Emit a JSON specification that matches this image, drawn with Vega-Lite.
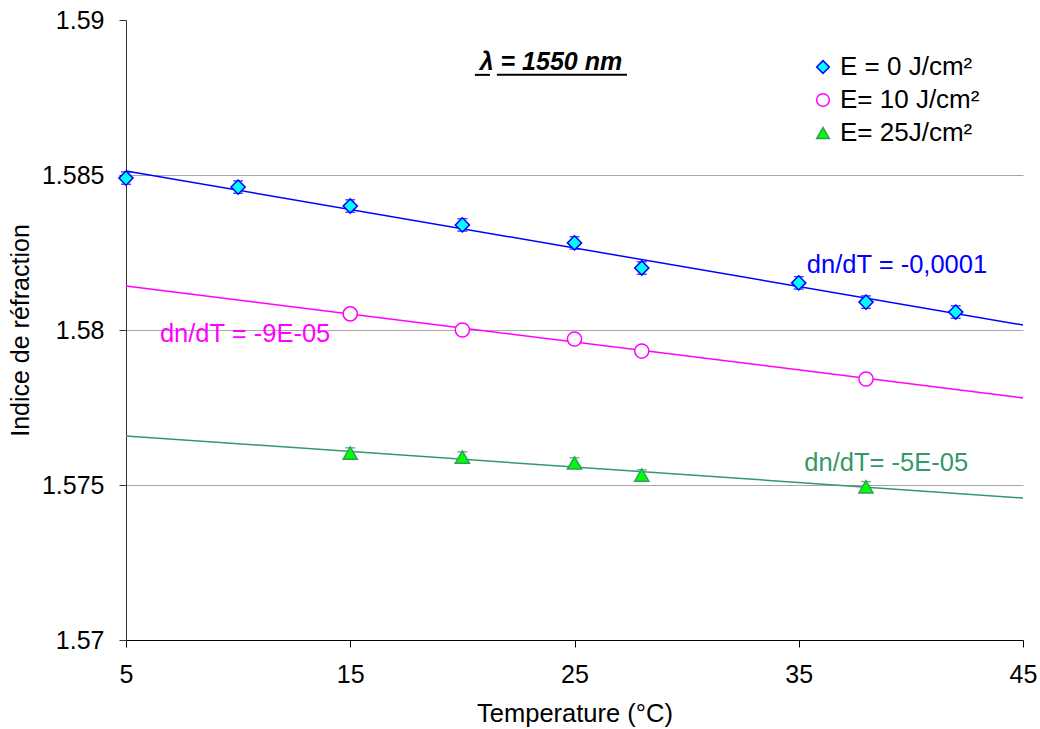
{
  "$schema": "https://vega.github.io/schema/vega-lite/v6.json",
  "width": 897,
  "height": 620,
  "autosize": "none",
  "padding": {"left": 126, "top": 20, "right": 17, "bottom": 89},
  "background": "white",
  "config": {
    "font": "Liberation Sans",
    "view": {"stroke": null},
    "axis": {"labelFont": "Liberation Sans", "titleFont": "Liberation Sans", "labelColor": "black", "titleColor": "black", "titleFontWeight": "normal"},
    "legend": {"orient": "none", "legendX": 684, "legendY": 34, "labelFontSize": 26, "labelFont": "Liberation Sans", "labelColor": "black", "symbolSize": 160, "symbolStrokeWidth": 1.5, "rowPadding": 7, "labelOffset": 4, "padding": 0}
  },
  "datasets": {
    "points": [
      {"T": 5, "n": 1.5849, "err": 0.0002, "s": "E = 0 J/cm²"},
      {"T": 10, "n": 1.58461, "err": 0.0002, "s": "E = 0 J/cm²"},
      {"T": 15, "n": 1.584, "err": 0.0002, "s": "E = 0 J/cm²"},
      {"T": 20, "n": 1.58339, "err": 0.0002, "s": "E = 0 J/cm²"},
      {"T": 25, "n": 1.58281, "err": 0.0002, "s": "E = 0 J/cm²"},
      {"T": 28, "n": 1.582, "err": 0.0002, "s": "E = 0 J/cm²"},
      {"T": 35, "n": 1.58152, "err": 0.0002, "s": "E = 0 J/cm²"},
      {"T": 38, "n": 1.5809, "err": 0.0002, "s": "E = 0 J/cm²"},
      {"T": 42, "n": 1.58058, "err": 0.0002, "s": "E = 0 J/cm²"},
      {"T": 15, "n": 1.58052, "err": 0.0001, "s": "E= 10 J/cm²"},
      {"T": 20, "n": 1.58, "err": 0.0001, "s": "E= 10 J/cm²"},
      {"T": 25, "n": 1.57971, "err": 0.0001, "s": "E= 10 J/cm²"},
      {"T": 28, "n": 1.57932, "err": 0.0001, "s": "E= 10 J/cm²"},
      {"T": 38, "n": 1.57842, "err": 0.0001, "s": "E= 10 J/cm²"},
      {"T": 15, "n": 1.57603, "err": 0.00017, "s": "E= 25J/cm²"},
      {"T": 20, "n": 1.5759, "err": 0.00017, "s": "E= 25J/cm²"},
      {"T": 25, "n": 1.57571, "err": 0.00017, "s": "E= 25J/cm²"},
      {"T": 28, "n": 1.57532, "err": 0.00017, "s": "E= 25J/cm²"},
      {"T": 38, "n": 1.57494, "err": 0.00017, "s": "E= 25J/cm²"}
    ],
    "fits": [
      {"T": 5, "n": 1.58513, "s": "E = 0 J/cm²"},
      {"T": 45, "n": 1.58016, "s": "E = 0 J/cm²"},
      {"T": 5, "n": 1.58142, "s": "E= 10 J/cm²"},
      {"T": 45, "n": 1.57781, "s": "E= 10 J/cm²"},
      {"T": 5, "n": 1.57658, "s": "E= 25J/cm²"},
      {"T": 45, "n": 1.57458, "s": "E= 25J/cm²"}
    ],
    "labels": [
      {"T": 39.38, "n": 1.5821, "txt": "dn/dT = -0,0001", "s": "E = 0 J/cm²"},
      {"T": 10.31, "n": 1.57987, "txt": "dn/dT = -9E-05", "s": "E= 10 J/cm²"},
      {"T": 38.9, "n": 1.57571, "txt": "dn/dT= -5E-05", "s": "E= 25J/cm²"}
    ],
    "underline": [
      {"a": 20.56, "b": 21.23, "n": 1.58823},
      {"a": 21.54, "b": 27.34, "n": 1.58823}
    ]
  },
  "layer": [
    {
      "data": {"name": "fits"},
      "transform": [{"filter": "datum.s === 'E = 0 J/cm²'"}],
      "mark": {"type": "line", "strokeWidth": 1.5, "color": "#0000FF"},
      "encoding": {
        "x": {"field": "T", "type": "quantitative", "scale": {"domain": [5, 45], "nice": false, "zero": false},
          "axis": {"values": [5, 15, 25, 35, 45], "title": "Temperature (°C)", "titleFontSize": 25.5, "labelFontSize": 25, "labelPadding": 15, "titlePadding": 14, "grid": false, "domainColor": "black", "tickColor": "black", "tickSize": 7, "labelFlush": false}},
        "y": {"field": "n", "type": "quantitative", "title": "Indice de réfraction", "scale": {"domain": [1.57, 1.59], "nice": false, "zero": false},
          "axis": {"values": [1.57, 1.575, 1.58, 1.585, 1.59], "format": "~g", "titleFontSize": 25, "labelFontSize": 25, "labelPadding": 15, "titlePadding": 8, "domainColor": "#333333", "tickColor": "#333333", "tickSize": 7, "labelFlush": false,
            "grid": true, "gridColor": "#a6a6a6", "gridOpacity": {"condition": {"test": "datum.value < 1.571 || datum.value > 1.589", "value": 0}, "value": 1}}}
      }
    },
    {
      "data": {"name": "fits"},
      "transform": [{"filter": "datum.s === 'E= 10 J/cm²'"}],
      "mark": {"type": "line", "strokeWidth": 1.5, "color": "#FF00FF"},
      "encoding": {
        "x": {"field": "T", "type": "quantitative"},
        "y": {"field": "n", "type": "quantitative", "title": "Indice de réfraction"}
      }
    },
    {
      "data": {"name": "fits"},
      "transform": [{"filter": "datum.s === 'E= 25J/cm²'"}],
      "mark": {"type": "line", "strokeWidth": 1.5, "color": "#339966"},
      "encoding": {
        "x": {"field": "T", "type": "quantitative"},
        "y": {"field": "n", "type": "quantitative", "title": "Indice de réfraction"}
      }
    },
    {
      "data": {"name": "points"},
      "transform": [{"filter": "datum.s === 'E = 0 J/cm²'"}],
      "mark": {"type": "errorbar", "ticks": {"size": 10}, "thickness": 1.5, "color": "#0000FF"},
      "encoding": {
        "x": {"field": "T", "type": "quantitative"},
        "y": {"field": "n", "type": "quantitative", "title": "Indice de réfraction"},
        "yError": {"field": "err"}
      }
    },
    {
      "data": {"name": "points"},
      "transform": [{"filter": "datum.s === 'E= 10 J/cm²'"}],
      "mark": {"type": "errorbar", "ticks": {"size": 10}, "thickness": 1.5, "color": "#FF00FF"},
      "encoding": {
        "x": {"field": "T", "type": "quantitative"},
        "y": {"field": "n", "type": "quantitative", "title": "Indice de réfraction"},
        "yError": {"field": "err"}
      }
    },
    {
      "data": {"name": "points"},
      "transform": [{"filter": "datum.s === 'E= 25J/cm²'"}],
      "mark": {"type": "errorbar", "ticks": {"size": 10}, "thickness": 1.5, "color": "#339966"},
      "encoding": {
        "x": {"field": "T", "type": "quantitative"},
        "y": {"field": "n", "type": "quantitative", "title": "Indice de réfraction"},
        "yError": {"field": "err"}
      }
    },
    {
      "data": {"name": "points"},
      "mark": {"type": "point", "filled": false, "opacity": 1, "strokeWidth": 1.5, "size": 200},
      "encoding": {
        "x": {"field": "T", "type": "quantitative"},
        "y": {"field": "n", "type": "quantitative", "title": "Indice de réfraction"},
        "shape": {"field": "s", "type": "nominal", "scale": {"domain": ["E = 0 J/cm²", "E= 10 J/cm²", "E= 25J/cm²"], "range": ["diamond", "circle", "triangle-up"]}, "title": null},
        "fill": {"field": "s", "type": "nominal", "scale": {"domain": ["E = 0 J/cm²", "E= 10 J/cm²", "E= 25J/cm²"], "range": ["#00FFFF", "#FFFFFF", "#00FF00"]}, "title": null},
        "color": {"field": "s", "type": "nominal", "scale": {"domain": ["E = 0 J/cm²", "E= 10 J/cm²", "E= 25J/cm²"], "range": ["#0000FF", "#FF00FF", "#339966"]}, "title": null}
      }
    },
    {
      "data": {"name": "labels"},
      "transform": [{"filter": "datum.s === 'E = 0 J/cm²'"}],
      "mark": {"type": "text", "fontSize": 25.5, "font": "Liberation Sans", "color": "#0000FF"},
      "encoding": {
        "x": {"field": "T", "type": "quantitative"},
        "y": {"field": "n", "type": "quantitative", "title": "Indice de réfraction"},
        "text": {"field": "txt"}
      }
    },
    {
      "data": {"name": "labels"},
      "transform": [{"filter": "datum.s === 'E= 10 J/cm²'"}],
      "mark": {"type": "text", "fontSize": 25.5, "font": "Liberation Sans", "color": "#FF00FF"},
      "encoding": {
        "x": {"field": "T", "type": "quantitative"},
        "y": {"field": "n", "type": "quantitative", "title": "Indice de réfraction"},
        "text": {"field": "txt"}
      }
    },
    {
      "data": {"name": "labels"},
      "transform": [{"filter": "datum.s === 'E= 25J/cm²'"}],
      "mark": {"type": "text", "fontSize": 25.5, "font": "Liberation Sans", "color": "#339966"},
      "encoding": {
        "x": {"field": "T", "type": "quantitative"},
        "y": {"field": "n", "type": "quantitative", "title": "Indice de réfraction"},
        "text": {"field": "txt"}
      }
    },
    {
      "data": {"values": [{"t": "λ = 1550 nm"}]},
      "mark": {"type": "text", "fontSize": 25, "fontWeight": "bold", "fontStyle": "italic", "font": "Liberation Sans", "color": "black"},
      "encoding": {
        "x": {"datum": 23.95},
        "y": {"datum": 1.58865},
        "text": {"field": "t"}
      }
    },
    {
      "data": {"name": "underline"},
      "mark": {"type": "rule", "color": "black", "strokeWidth": 2},
      "encoding": {
        "x": {"field": "a", "type": "quantitative"},
        "x2": {"field": "b"},
        "y": {"field": "n", "type": "quantitative", "title": "Indice de réfraction"}
      }
    }
  ]
}
